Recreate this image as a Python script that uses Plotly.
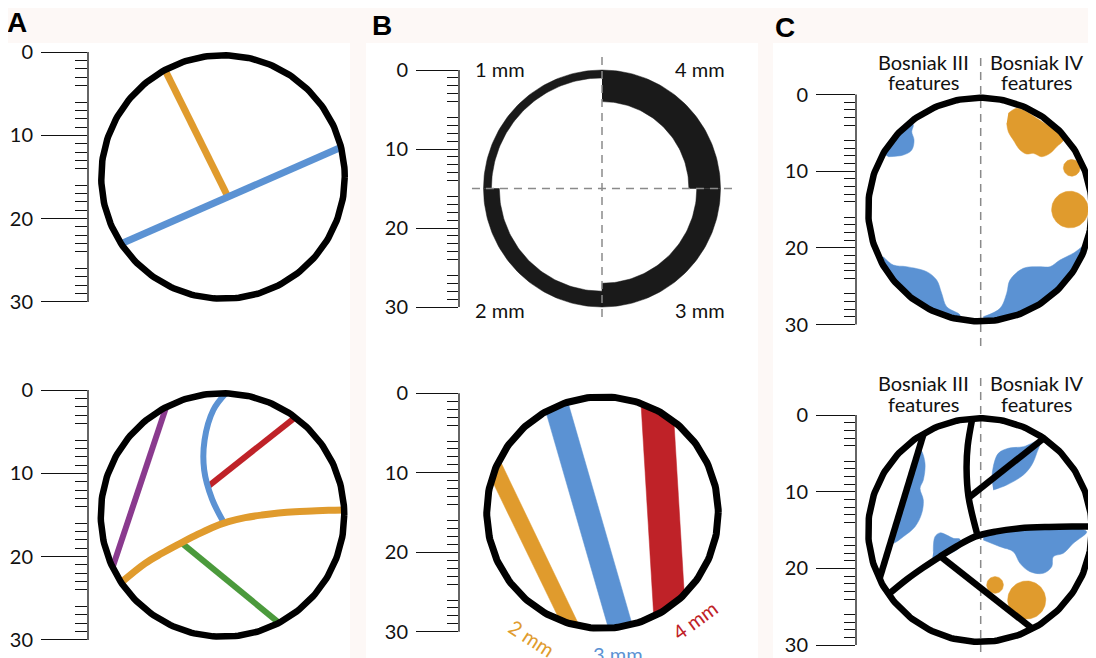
import numpy as np
import plotly.graph_objects as go

W, H = 1096, 658
OFF = 8  # the page body adds an 8 px margin; positions below are reference pixels

# ---------------- data (millimetres; y grows downward like the rulers) ----------------
ruler_major = [0, 10, 20, 30]
ruler_major_text = ["0", "10", "20", "30"]
ruler_mid = [5, 15, 25]
ruler_minor = [v for v in range(1, 30) if v % 5 != 0]

lesion_center = (15.0, 15.0)
lesion_radius = 15.0

# Panel A (top): two septa
a1_orange = [(15.6, 17.4), (8.28, 2.64)]
a1_blue = [(3.24, 22.8), (28.44, 11.76)]

# Panel A (bottom): five septa
a2_purple = [(8.12, 2.4), (2.04, 20.6)]
a2_red = [(13.2, 11.62), (23.33, 3.6)]
a2_blue = [(15.4, 0.4), (13.9, 2.4), (12.85, 6.0), (12.8, 9.6), (13.75, 13.1), (15.1, 15.8)]
a2_orange = [(3.72, 22.4), (5.72, 20.8), (7.73, 19.6), (9.72, 18.52), (11.72, 17.48),
             (13.73, 16.52), (15.72, 15.8), (17.72, 15.32), (19.73, 15.0), (21.72, 14.76),
             (23.72, 14.6), (25.73, 14.52), (27.72, 14.44), (29.6, 14.4)]
a2_green = [(9.9, 18.2), (21.12, 27.4)]

# Panel B (top): wall thickness per quadrant
b1_labels = ["4 mm", "3 mm", "2 mm", "1 mm"]
b1_thickness = [4.0, 3.0, 2.0, 1.0]
b1_angle_start = [-90, 0, 90, 180]

# Panel B (bottom): septum bands
b2_labels = ["2 mm", "3 mm", "4 mm"]
b2_width = [2.0, 3.0, 4.0]
b2_anchor = [(6.0, 18.87), (13.01, 14.68), (22.65, 14.68)]
b2_slope = [0.48, 0.289, 0.06]

# Panel C (top): wall irregularities (blue) and nodules (orange)
c1_blue_tl = [(3.04, 8.11), (5.0, 7.89), (6.10, 7.24), (6.40, 5.93), (6.10, 4.85), (6.31, 3.98)]
c1_blue_bl = [(2.39, 21.15), (3.70, 22.23), (5.44, 22.45), (8.05, 23.10), (9.35, 24.19),
              (10.0, 25.92), (10.66, 27.67), (12.39, 28.75)]
c1_blue_br = [(15.43, 28.97), (17.61, 27.88), (18.48, 25.92), (18.91, 24.19), (20.65, 22.66),
              (22.82, 22.45), (24.13, 22.45), (25.43, 21.58), (27.16, 20.70), (28.69, 19.62)]
c1_orange_blob = [(18.69, 2.45), (19.78, 1.80), (21.09, 2.24), (22.39, 3.10), (24.13, 4.20),
                  (25.43, 5.06), (25.86, 5.93), (25.0, 6.81), (24.13, 7.67), (23.04, 8.11),
                  (21.95, 7.67), (21.09, 7.76), (20.22, 7.24), (19.34, 5.93), (18.69, 4.85),
                  (18.48, 3.75)]
c1_nodules = [(26.96, 9.56, 1.09), (26.73, 15.0, 2.39)]

# Panel C (bottom): septa, irregular thickening (blue) and nodules (orange)
c2_s1 = [(7.40, 3.26), (2.18, 20.43)]
c2_s2 = [(14.0, 0.45), (13.4, 4.0), (13.25, 7.0), (13.5, 10.65), (14.6, 15.4)]
c2_s3 = [(13.5, 10.8), (23.04, 3.26)]
c2_s5 = [(3.49, 23.04), (5.5, 21.4), (7.6, 19.9), (9.78, 18.47), (12.0, 17.1), (14.35, 15.86),
         (17.0, 15.2), (20.22, 14.77), (24.0, 14.6), (27.0, 14.55), (29.6, 14.55)]
c2_s6 = [(9.8, 18.4), (21.52, 27.6)]
c2_blue_1 = [(6.79, 4.17), (7.31, 4.56), (7.83, 6.30), (7.61, 8.47), (7.18, 9.56), (7.61, 11.08),
             (7.40, 12.82), (6.53, 14.56), (5.0, 15.87), (3.70, 16.73), (3.01, 16.69)]
c2_blue_2 = [(8.91, 17.82), (9.13, 15.87), (9.78, 15.37), (10.66, 15.65), (11.52, 16.08),
             (12.39, 16.21), (12.39, 17.21), (9.78, 18.65), (8.74, 19.04)]
c2_blue_3 = [(16.53, 8.47), (16.73, 6.74), (17.39, 5.0), (18.69, 4.34), (20.65, 4.13),
             (22.82, 3.35), (22.39, 5.0), (21.74, 6.52), (20.65, 7.82), (18.48, 9.13),
             (16.73, 9.78)]
c2_blue_4 = [(15.43, 16.30), (17.61, 17.17), (19.34, 17.82), (20.22, 19.34), (21.52, 20.43),
             (23.25, 20.64), (24.35, 19.78), (24.56, 18.47), (25.86, 18.03), (27.16, 16.73),
             (28.91, 15.21), (25.43, 14.77), (20.22, 14.99), (15.43, 15.65)]
c2_nodules = [(16.96, 22.16, 1.09), (21.09, 24.12, 2.48)]

c_left_label = ["Bosniak III", "features"]
c_right_label = ["Bosniak IV", "features"]

# ---------------- styling ----------------
ORANGE = "#E09B2D"
BLUE = "#5B92D3"
RED = "#BF2228"
PURPLE = "#8A3A8E"
GREEN = "#4B9A3C"
INK = "#111111"
WALL = "#1A1A1A"
DASH = "#8A8A8A"
FONT = "Lato, 'Open Sans', sans-serif"

# panel geometry in reference pixels: scale, ruler x, y of 0 mm, circle centre x, box
panels = [
    dict(s=8.333, rx=88, y0=52.0, cx=223.0, top=45, bottom=326, right=352, tl=(46, 28, 12)),
    dict(s=8.333, rx=88, y0=390.0, cx=222.5, top=370, bottom=666, right=352, tl=(46, 28, 12)),
    dict(s=7.90, rx=459, y0=70.0, cx=602.0, top=50, bottom=330, right=752, tl=(42, 27, 11)),
    dict(s=7.95, rx=459, y0=393.3, cx=602.5, top=370, bottom=666, right=752, tl=(42, 27, 11)),
    dict(s=7.67, rx=856, y0=94.5, cx=980.0, top=50, bottom=350, right=1104, tl=(39, 27, 11)),
    dict(s=7.67, rx=856, y0=415.0, cx=980.0, top=372, bottom=666, right=1104, tl=(39, 27, 11)),
]

C0 = np.array(lesion_center)


def fx(px):
    return (px - OFF) / W


def fy(py):
    return 1 - (py - OFF) / H


def hit_circle(p_from, p_toward, R):
    p = np.asarray(p_from, float)
    q = np.asarray(p_toward, float)
    d = q - p
    d /= np.linalg.norm(d)
    f = p - C0
    b = f @ d
    c = f @ f - R * R
    t = -b + np.sqrt(max(b * b - c, 0.0))
    return p + t * d


def chord(a, b, R):
    m = (np.asarray(a, float) + np.asarray(b, float)) / 2
    return [hit_circle(m, a, R), hit_circle(m, b, R)]


def ray(start, toward, R):
    return [np.asarray(start, float), hit_circle(start, toward, R)]


def curve_ends(pts, R, first=True, last=False):
    pts = [np.asarray(p, float) for p in pts]
    if first:
        pts[0] = hit_circle(pts[1], pts[0], R)
    if last:
        pts[-1] = hit_circle(pts[-2], pts[-1], R)
    return pts


def circle_pts(r, cx=15.0, cy=15.0, a0=0.0, a1=360.0, n=241):
    t = np.radians(np.linspace(a0, a1, n))
    return cx + r * np.cos(t), cy + r * np.sin(t)


def arc_between(p, q, R, n=24):
    ap = np.arctan2(p[1] - C0[1], p[0] - C0[0])
    aq = np.arctan2(q[1] - C0[1], q[0] - C0[0])
    delta = (aq - ap + np.pi) % (2 * np.pi) - np.pi
    t = ap + delta * np.linspace(0, 1, n)
    return [np.array([C0[0] + R * np.cos(a), C0[1] + R * np.sin(a)]) for a in t]


def wall_blob(points, R):
    pts = [np.asarray(p, float) for p in points]
    arc = arc_between(pts[-1], pts[0], R)
    full = np.array(pts + arc)
    return full[:, 0], full[:, 1]


def band_polygon(anchor, slope, w, R):
    d = np.array([slope, 1.0])
    d /= np.linalg.norm(d)
    nrm = np.array([-d[1], d[0]])
    ends = []
    for off in (w / 2, -w / 2):
        q = np.asarray(anchor, float) + nrm * off
        f = q - C0
        b = f @ d
        c = f @ f - R * R
        s = np.sqrt(max(b * b - c, 0.0))
        ends.append((q + (-b - s) * d, q + (-b + s) * d))
    (a1, b1), (a2, b2) = ends
    poly = [a1, b1] + arc_between(b1, b2, R) + [b2, a2] + arc_between(a2, a1, R)
    poly = np.array(poly)
    return poly[:, 0], poly[:, 1]


fig = go.Figure()


def ax_names(i):
    return ("x" if i == 1 else f"x{i}"), ("y" if i == 1 else f"y{i}")


def add_line(i, pts, color, width, shape="linear"):
    xa, ya = ax_names(i)
    arr = np.array([np.asarray(p, float) for p in pts])
    fig.add_trace(go.Scatter(x=arr[:, 0], y=arr[:, 1], mode="lines", xaxis=xa, yaxis=ya,
                             line=dict(color=color, width=width, shape=shape),
                             hoverinfo="skip", showlegend=False))


def add_fill(i, x, y, color, shape="linear"):
    xa, ya = ax_names(i)
    fig.add_trace(go.Scatter(x=x, y=y, mode="lines", fill="toself", fillcolor=color,
                             xaxis=xa, yaxis=ya,
                             line=dict(color=color, width=0.5, shape=shape),
                             hoverinfo="skip", showlegend=False))


def add_outline(i, stroke):
    s = panels[i - 1]["s"]
    r = lesion_radius - (stroke / 2) / s
    x, y = circle_pts(r)
    add_line(i, list(zip(x, y)), "#000000", stroke)


def r_end(i, stroke):
    return lesion_radius - (stroke / 2) / panels[i - 1]["s"]


# ---- Panel A top ----
R1 = r_end(1, 6.5)
add_line(1, ray(a1_orange[0], a1_orange[1], R1), ORANGE, 7)
add_line(1, chord(a1_blue[0], a1_blue[1], R1), BLUE, 7)
add_outline(1, 6.5)

# ---- Panel A bottom ----
R2 = r_end(2, 6.5)
add_line(2, chord(a2_purple[0], a2_purple[1], R2), PURPLE, 6)
add_line(2, ray(a2_red[0], a2_red[1], R2), RED, 6)
add_line(2, a2_blue, BLUE, 6, "spline")
add_line(2, ray(a2_green[0], a2_green[1], R2), GREEN, 6)
add_line(2, curve_ends(a2_orange, R2, first=True), ORANGE, 7, "spline")
add_outline(2, 6.5)

# ---- Panel B top ----
for lab, t, a0 in zip(b1_labels, b1_thickness, b1_angle_start):
    xo, yo = circle_pts(lesion_radius, a0=a0, a1=a0 + 90, n=60)
    xi, yi = circle_pts(lesion_radius - t, a0=a0 + 90, a1=a0, n=60)
    add_fill(3, np.r_[xo, xi], np.r_[yo, yi], WALL)

# ---- Panel B bottom ----
R4 = lesion_radius - 3.5 / panels[3]["s"]
band_colors = [ORANGE, BLUE, RED]
for w, anc, sl, col in zip(b2_width, b2_anchor, b2_slope, band_colors):
    bx, by = band_polygon(anc, sl, w, R4)
    add_fill(4, bx, by, col)
add_outline(4, 7)

# ---- Panel C top ----
R5 = r_end(5, 6.5)
for blob in (c1_blue_tl, c1_blue_bl, c1_blue_br):
    bx, by = wall_blob(blob, R5)
    add_fill(5, bx, by, BLUE, "spline")
ob = np.array(c1_orange_blob)
add_fill(5, ob[:, 0], ob[:, 1], ORANGE, "spline")
for (nx, ny, nr) in c1_nodules:
    x, y = circle_pts(nr, nx, ny, n=73)
    add_fill(5, x, y, ORANGE)
add_outline(5, 6.5)

# ---- Panel C bottom ----
R6 = r_end(6, 6.5)
for blob in (c2_blue_1, c2_blue_2, c2_blue_3, c2_blue_4):
    b = np.array(blob)
    add_fill(6, b[:, 0], b[:, 1], BLUE, "spline")
for (nx, ny, nr) in c2_nodules:
    x, y = circle_pts(nr, nx, ny, n=73)
    add_fill(6, x, y, ORANGE)
add_line(6, chord(c2_s1[0], c2_s1[1], R6), "#000000", 6.5)
add_line(6, c2_s2, "#000000", 6.5, "spline")
add_line(6, ray(c2_s3[0], c2_s3[1], R6), "#000000", 6.5)
add_line(6, ray(c2_s6[0], c2_s6[1], R6), "#000000", 6.5)
add_line(6, curve_ends(c2_s5, R6, first=True), "#000000", 6.5, "spline")
add_outline(6, 6.5)

# ---------------- axes (rulers) ----------------
layout = {}
shapes = []
annotations = []
for i, p in enumerate(panels, start=1):
    s = p["s"]
    x_lo = 15 + (p["rx"] - p["cx"]) / s
    x_hi = 15 + (p["right"] - p["cx"]) / s
    y_top = (p["top"] - p["y0"]) / s
    y_bot = (p["bottom"] - p["y0"]) / s
    xa, ya = ax_names(i)
    xkey = "xaxis" if i == 1 else f"xaxis{i}"
    ykey = "yaxis" if i == 1 else f"yaxis{i}"
    major, mid, minor = p["tl"]
    layout[xkey] = dict(domain=[fx(p["rx"]), min(fx(p["right"]), 1.0)],
                        range=[x_lo, x_lo + (min(fx(p["right"]), 1.0) - fx(p["rx"])) * W / s],
                        visible=False, anchor=ya, fixedrange=True, automargin=False)
    layout[ykey] = dict(domain=[max(fy(p["bottom"]), 0.0), fy(p["top"])],
                        range=[y_top + (fy(p["top"]) - max(fy(p["bottom"]), 0.0)) * H / s, y_top],
                        anchor=xa, tickmode="array", tickvals=ruler_major,
                        ticktext=ruler_major_text, ticks="outside", ticklen=major,
                        tickwidth=1.3, tickcolor=INK, showline=False, showgrid=False,
                        zeroline=False, ticklabelstandoff=4, automargin=False,
                        tickfont=dict(family=FONT, size=20, color=INK),
                        minor=dict(tickmode="array", tickvals=ruler_minor, ticks="outside",
                                   ticklen=minor, tickwidth=1.2, tickcolor=INK, showgrid=False),
                        fixedrange=True)
    layout[f"yaxis{i + 6}"] = dict(overlaying=ya, anchor=xa, side="left",
                                   range=layout[ykey]["range"],
                                   tickmode="array", tickvals=ruler_mid, showticklabels=False,
                                   ticks="outside", ticklen=mid, tickwidth=1.3, tickcolor=INK,
                                   showline=False, showgrid=False, zeroline=False,
                                   automargin=False, fixedrange=True)
    shapes.append(dict(type="line", xref=f"{xa} domain", yref=ya, x0=0, x1=0, y0=0, y1=30,
                       line=dict(color=INK, width=1.3), layer="above"))

# dashed guides
shapes.append(dict(type="line", xref="x3", yref="y3", x0=15, x1=15, y0=-1.65, y1=31.6,
                   line=dict(color=DASH, width=1.5, dash="8px,6px"), layer="above"))
shapes.append(dict(type="line", xref="x3", yref="y3", x0=-1.46, x1=31.46, y0=15, y1=15,
                   line=dict(color=DASH, width=1.5, dash="8px,6px"), layer="above"))
shapes.append(dict(type="line", xref="x5", yref="y5", x0=15.09, x1=15.09, y0=-4.76, y1=32.8,
                   line=dict(color=DASH, width=1.5, dash="8px,6px"), layer="below"))
shapes.append(dict(type="line", xref="x6", yref="y6", x0=15.09, x1=15.09, y0=-4.82, y1=31.8,
                   line=dict(color=DASH, width=1.5, dash="8px,6px"), layer="below"))

# white column backgrounds on the pale page
for (x0, x1) in [(8, 350), (366, 758), (773, 1104)]:
    shapes.append(dict(type="rect", xref="paper", yref="paper", x0=fx(x0), x1=min(fx(x1), 1.0),
                       y0=0, y1=fy(43), fillcolor="white", line=dict(width=0),
                       layer="below"))

txt = dict(family=FONT, size=20, color=INK)
# panel letters
for lab, px, py in [("A", 5, 23), ("B", 370, 25), ("C", 773, 27)]:
    annotations.append(dict(text=f"<b>{lab}</b>", xref="paper", yref="paper", x=fx(px),
                            y=fy(py), xanchor="left", yanchor="middle", showarrow=False,
                            font=dict(family="Liberation Sans, Arial, sans-serif", size=28,
                                      color="#000000")))

# B top quadrant labels
b1_pos = {"4 mm": (30.8, -0.13, "right"), "3 mm": (30.8, 30.38, "right"),
          "2 mm": (-1.33, 30.38, "left"), "1 mm": (-1.33, -0.13, "left")}
for lab in b1_labels:
    x, y, anc = b1_pos[lab]
    annotations.append(dict(text=lab, xref="x3", yref="y3", x=x, y=y, xanchor=anc,
                            yanchor="middle", showarrow=False, font=txt))

# B bottom band labels
b2_pos = [(6.13, 30.8, 33), (16.95, 32.75, 0), (26.63, 28.5, -36)]
for lab, col, (x, y, ang) in zip(b2_labels, band_colors, b2_pos):
    annotations.append(dict(text=lab, xref="x4", yref="y4", x=x, y=y, xanchor="center",
                            yanchor="middle", textangle=ang, showarrow=False,
                            font=dict(family=FONT, size=20, color=col)))

# C labels
for i, (ya1, ya2) in [(5, (-4.24, -1.63)), (6, (-4.17, -1.43))]:
    xa, yax = ax_names(i)
    for xpos, lines in [(7.57, c_left_label), (22.43, c_right_label)]:
        for line, yy in zip(lines, (ya1, ya2)):
            annotations.append(dict(text=line, xref=xa, yref=yax, x=xpos, y=yy,
                                    xanchor="center", yanchor="middle", showarrow=False,
                                    font=txt))

fig.update_layout(template="none", width=W, height=H, margin=dict(l=0, r=0, t=0, b=0, pad=0),
                  paper_bgcolor="#FDF8F6", plot_bgcolor="rgba(0,0,0,0)",
                  shapes=shapes, annotations=annotations, showlegend=False, **layout)

fig.write_html("out.html")
